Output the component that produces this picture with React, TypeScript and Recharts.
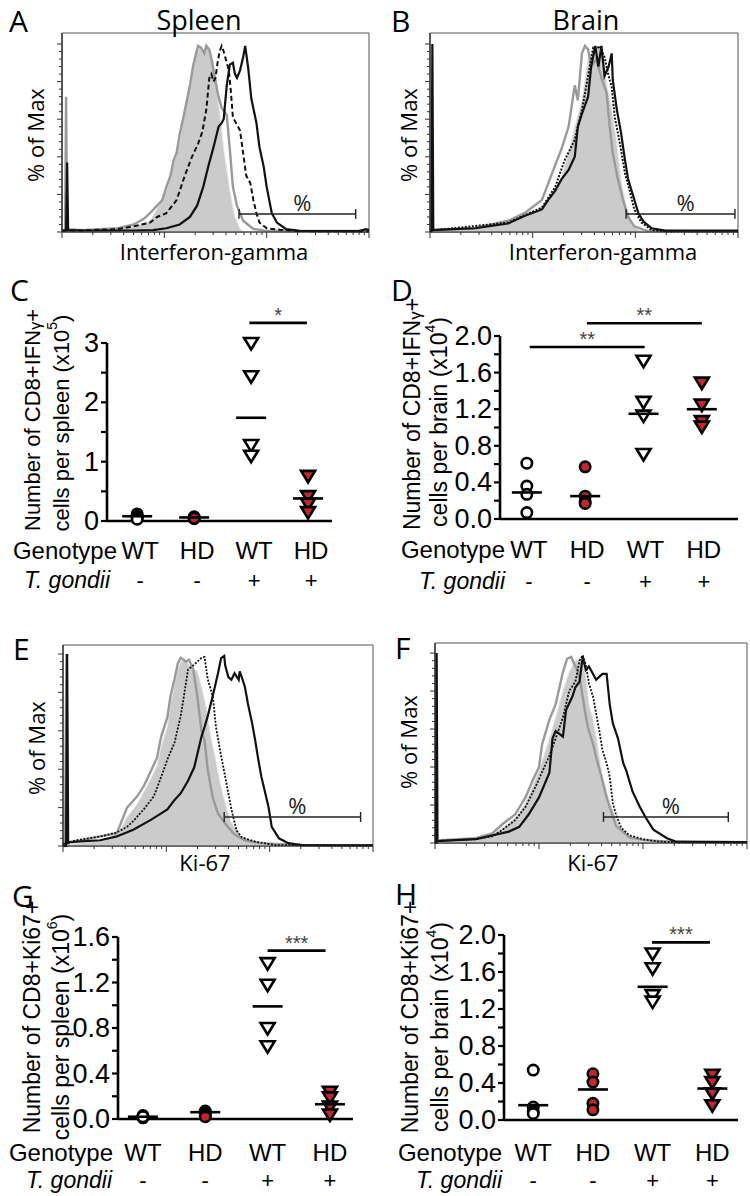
import React from 'react';
import { ComposedChart, Line, Area, Scatter, XAxis, YAxis, ReferenceArea, ReferenceLine } from 'recharts';

type Pt = [number, number];

// ---------- Histogram data: x = fluorescence channel (0-300, 100 per decade), y = % of Max ----------
// A: Spleen, Interferon-gamma
const aFill: Pt[] = [[0,0],[30,0.5],[70,3],[86,6],[96,15],[102,22],[109,36],[115,48],[120,66],[124,76],[128,88],[132,96],[135,99],[138,95],[141,99],[145,96],[148,90],[151,80],[153,68],[156,55],[158,44],[161,33],[164,22],[167,13],[169,8],[172,4],[174,1.5],[178,0],[300,0]];
const aGray: Pt[] = [[0,0.5],[3,0.5],[4,72],[5,1.5],[20,1],[37,1.5],[55,2],[70,4],[80,7],[86,10],[93,14],[98,17],[102,24],[106,30],[109,38],[112,42],[115,52],[119,62],[122,70],[125,78],[128,88],[131,95],[133,99],[136,98],[139,95],[141,99],[144,97],[146,92],[148,86],[150,80],[153,72],[156,66],[159,64],[161,62],[164,44],[167,24],[171,14],[177,6],[187,1.6],[200,0.6],[300,0.5]];
const aDash: Pt[] = [[0,0.8],[20,0.8],[54,1.5],[70,3],[86,5],[93,8],[102,10],[112,17],[120,30],[127,40],[133,47],[137,53],[141,65],[144,82],[146,84],[148,80],[150,82],[152,90],[154,96],[156,99],[158,96],[161,90],[163,86],[165,75],[167,61],[171,57],[174,54],[177,42],[180,30],[184,26],[187,17],[190,10],[193,5],[200,2],[213,1.2],[230,0.5],[300,0.3]];
const aSolid: Pt[] = [[0,0.8],[4,0.8],[5,37],[6,1],[20,0.8],[70,0.8],[89,1],[102,2],[115,4],[125,8],[132,14],[138,24],[143,35],[148,45],[153,56],[156,58],[158,60],[161,78],[164,89],[167,90],[169,84],[171,82],[174,86],[177,93],[179,99],[182,87],[185,71],[190,58],[193,45],[197,35],[200,24],[205,10],[210,5],[219,1.5],[232,0.6],[290,0.5],[297,1.5],[300,1]];

// B: Brain, Interferon-gamma
const bFill: Pt[] = [[0,0],[5,1],[44,2],[76,5],[92,8],[109,12],[125,24],[135,42],[141,56],[148,70],[154,92],[159,97],[164,99],[167,95],[172,79],[177,65],[182,47],[186,28],[191,14],[196,5],[203,1],[215,0],[300,0]];
const bGray: Pt[] = [[0,1],[5,1.2],[44,2],[76,6],[92,10],[109,17],[118,30],[128,44],[135,56],[141,78],[144,70],[148,95],[151,99],[154,97],[157,88],[162,92],[167,82],[172,74],[175,56],[178,42],[183,28],[188,17],[193,8],[199,3],[212,0.5],[300,0.3]];
const bDash: Pt[] = [[0,1],[5,1],[76,5],[109,13],[122,24],[131,38],[141,49],[148,65],[154,83],[159,98],[162,97],[165,99],[170,93],[174,83],[177,77],[180,61],[185,47],[190,31],[195,21],[199,12],[206,5],[216,1],[230,0.3],[300,0.2]];
const bSolid: Pt[] = [[0,0.5],[1.5,0.5],[2.3,100],[3.2,1],[44,2],[76,4.5],[92,8.5],[109,12],[115,17],[122,22],[128,28],[135,33],[141,40],[144,56],[148,63],[154,72],[157,88],[161,99],[164,88],[167,99],[170,83],[174,88],[177,95],[178,81],[182,65],[186,53],[190,38],[193,28],[198,19],[203,10],[208,5.5],[216,2],[229,0.7],[300,0.7]];

// E: Spleen, Ki-67
const eFill: Pt[] = [[0,0],[10,1],[36,3],[52,5],[62,15],[72,22],[78,28],[85,35],[91,42],[95,52],[101,62],[104,74],[108,84],[111,92],[114,96],[119,97],[121,95],[124,93],[130,91],[134,83],[139,71],[143,57],[147,47],[152,33],[157,22],[163,12],[173,5],[186,1.5],[200,0],[300,0]];
const eGray: Pt[] = [[0,0],[2,0],[3.3,100],[4.5,2],[10,2],[36,5],[52,6.6],[62,20],[72,26],[78,31],[85,39],[91,46],[95,57],[101,67],[104,78],[108,87],[111,95],[114,98],[119,96],[122,97],[126,92],[130,78],[134,60],[137,55],[140,40],[145,25],[150,17],[158,11],[166,6],[176,3],[190,1.5],[199,1.2],[231,0.5],[300,0.3]];
const eDot: Pt[] = [[0,1],[13,3],[36,5],[52,7],[62,10],[68,13],[78,19],[88,26],[95,36],[101,45],[108,54],[114,68],[117,78],[121,92],[126,94],[130,96],[134,98],[137,98.5],[140,87],[145,78],[148,62],[153,47],[157,36],[163,19],[168,8],[173,4.5],[186,2.3],[205,0.5],[300,0.3]];
const eSolid: Pt[] = [[0,0],[3,0],[4,100],[5,1],[6,2],[36,3],[52,5],[68,8.5],[85,13.6],[95,17],[101,19],[108,24],[114,27.5],[121,34],[127,41],[134,57],[137,62],[140,67.5],[143,74],[147,83],[150,90],[153,97.9],[156,99],[157,94],[160,88],[163,86.6],[166,90],[170,86.6],[171,91],[173,88],[176,83],[179,74],[183,64],[186,55],[189,45],[192,36],[196,27],[199,20],[202,10],[209,4],[218,1.5],[231,0.5],[300,0.3]];

// F: Brain, Ki-67
const fFill: Pt[] = [[0,0],[6,1],[39,2],[55,4],[65,8],[77,13],[87,21],[94,30],[100,38],[110,55],[116,66],[123,80],[129,90],[135,96],[139,97],[142,94],[145,88],[148,73],[152,65],[155,56],[161,35],[168,21],[177,9],[187,3],[200,0.8],[215,0],[300,0]];
const fGray: Pt[] = [[0,0],[6,1.5],[39,2.5],[55,5],[65,10],[77,15],[87,24],[94,33],[100,40],[103,52],[110,65],[116,73],[123,90],[127,97],[131,98],[134,94],[137,91],[140,84],[144,70],[147,61],[152,52],[155,45],[160,35],[165,24],[168,19],[174,9],[187,3],[200,1.5],[232,0.5],[300,0.3]];
const fDot: Pt[] = [[0,1],[6,1.2],[39,2],[55,3.5],[65,7],[77,12],[87,19],[97,30],[110,46],[116,55],[123,66],[129,80],[135,85],[139,96],[142,99],[145,94],[148,84],[152,77],[155,68],[158,59],[161,49],[165,42],[168,35],[171,21],[174,15],[179,8],[187,4],[200,2],[216,0.7],[240,0.3],[300,0.3]];
const fSolid: Pt[] = [[0,0],[1,0],[1.6,100],[2.4,1],[39,2],[71,6],[81,8.5],[90,15],[100,24],[110,37],[113,55],[116,59],[123,56],[126,70],[132,77],[135,82],[139,85],[142,98],[145,91],[148,93],[155,86],[161,89],[165,89],[168,73],[171,63],[176,55],[181,42],[184,38],[190,27],[197,19],[203,13],[210,7],[223,2.5],[232,0.7],[300,0.5]];

// Gates (channel start, channel end, height %)
const gateA = [173, 287, 9.6];
const gateB = [191, 297, 9.6];
const gateE = [156, 288, 15.1];
const gateF = [162, 282, 13.7];

// ---------- Dot plot data ----------
const genotypes = ['WT', 'HD', 'WT', 'HD'];
const infected = ['-', '-', '+', '+'];

// C: CD8+IFNγ+ per spleen (x10^5)
const cWTneg = [0.12, 0.08, 0.05, 0.03];
const cHDneg = [0.07, 0.06, 0.04, 0.05];
const cWTpos = [3.0, 2.44, 1.28, 1.10];
const cHDpos = [0.76, 0.42, 0.29, 0.15];
const cMeans = [0.08, 0.06, 1.74, 0.38];
const cYMajor = [0, 1, 2, 3];
const cYMinor = [0.5, 1.5, 2.5];

// D: CD8+IFNγ+ per brain (x10^4)
const dWTneg = [0.61, 0.36, 0.27, 0.07];
const dHDneg = [0.57, 0.25, 0.19, 0.17];
const dWTpos = [1.73, 1.28, 1.13, 0.71];
const dHDpos = [1.49, 1.25, 1.07, 1.01];
const dMeans = [0.29, 0.25, 1.15, 1.20];
const dYMajor = [0, 0.4, 0.8, 1.2, 1.6, 2.0];
const dYMinor = [0.2, 0.6, 1.0, 1.4, 1.8];

// G: CD8+Ki67+ per spleen (x10^6)
const gWTneg = [0.03, 0.02, 0.01, 0.02];
const gHDneg = [0.07, 0.05, 0.03, 0.02];
const gWTpos = [1.37, 1.18, 0.80, 0.64];
const gHDpos = [0.24, 0.19, 0.11, 0.04];
const gMeans = [0.02, 0.06, 0.99, 0.13];
const gYMajor = [0, 0.4, 0.8, 1.2, 1.6];
const gYMinor = [0.2, 0.6, 1.0, 1.4];

// H: CD8+Ki67+ per brain (x10^4)
const hWTneg = [0.54, 0.14, 0.09, 0.07];
const hHDneg = [0.50, 0.41, 0.18, 0.11];
const hWTpos = [1.80, 1.64, 1.35, 1.28];
const hHDpos = [0.49, 0.41, 0.29, 0.16];
const hMeans = [0.16, 0.33, 1.44, 0.34];
const hYMajor = [0, 0.4, 0.8, 1.2, 1.6, 2.0];
const hYMinor = [0.2, 0.6, 1.0, 1.4, 1.8];

// significance bars: [from group, to group, y, label]
const cSig: [number, number, number, string][] = [[1.97, 2.98, 3.34, '*']];
const dSig: [number, number, number, string][] = [[0.05, 2.02, 1.88, '**'], [1.03, 3.0, 2.14, '**']];
const gSig: [number, number, number, string][] = [[2.0, 2.93, 1.48, '***']];
const hSig: [number, number, number, string][] = [[1.99, 2.96, 1.92, '***']];

// ---------- styling ----------
const SANS = "'Liberation Sans', Arial, sans-serif";
const OPEN = "'Open Sans', 'Liberation Sans', sans-serif";
const RED = '#c1272d';

const toXY = (pts: Pt[]) => pts.map(([x, y]) => ({ x, y }));

const logTicks: number[] = (() => {
  const t: number[] = [];
  for (let d = 0; d < 3; d++) for (let k = 1; k < 10; k++) t.push(d * 100 + 100 * Math.log10(k));
  t.push(300);
  return t;
})();
const histYTicks: number[] = Array.from({ length: 26 }, (_, i) => i * 4);

const HistXTick = (p: any) => {
  const v = p.payload.value;
  const major = Math.abs(v - Math.round(v / 100) * 100) < 1e-6;
  return <line x1={p.x} x2={p.x} y1={p.y} y2={p.y + (major ? 6 : 3)} stroke="#333" strokeWidth={1} />;
};
const HistYTick = (p: any) => {
  const v = p.payload.value;
  const major = Math.abs(v % 20) < 1e-6;
  return <line x1={p.x} x2={p.x - (major ? 5 : 3)} y1={p.y} y2={p.y} stroke="#333" strokeWidth={1} />;
};

type HistProps = {
  left: number; top: number; width: number; height: number;
  margin: { top: number; right: number; bottom: number; left: number };
  yMax: number; fill: Pt[]; gray: Pt[]; dash: Pt[]; solid: Pt[]; dashArray: string; dashWidth: number; gate: number[];
};

function Histogram(h: HistProps) {
  const [g1, g2, gy] = h.gate;
  return (
    <div style={{ position: 'absolute', left: h.left, top: h.top }}>
      <ComposedChart width={h.width} height={h.height} margin={h.margin}>
        <XAxis type="number" dataKey="x" domain={[0, 300]} ticks={logTicks} interval={0} tickSize={0} tickMargin={0}
          tickLine={false} tick={HistXTick} axisLine={{ stroke: '#222', strokeWidth: 1.2 }} height={10} />
        <YAxis type="number" domain={[0, h.yMax]} ticks={histYTicks} interval={0} tickSize={0} tickMargin={0}
          tickLine={false} tick={HistYTick} axisLine={{ stroke: '#222', strokeWidth: 1.2 }} width={20} />
        <ReferenceArea x1={0} x2={300} y1={0} y2={h.yMax} fill="none" stroke="#555" strokeWidth={1} />
        <Area data={toXY(h.fill)} dataKey="y" type="linear" fill="#cbcbcb" fillOpacity={1} stroke="#e6e6e6" strokeWidth={1} isAnimationActive={false} dot={false} activeDot={false} />
        <Line data={toXY(h.gray)} dataKey="y" type="linear" stroke="#9a9a9a" strokeWidth={2.4} dot={false} activeDot={false} isAnimationActive={false} />
        <Line data={toXY(h.dash)} dataKey="y" type="linear" stroke="#111" strokeWidth={h.dashWidth} strokeDasharray={h.dashArray} dot={false} activeDot={false} isAnimationActive={false} />
        <Line data={toXY(h.solid)} dataKey="y" type="linear" stroke="#111" strokeWidth={2.2} dot={false} activeDot={false} isAnimationActive={false} />
        <ReferenceLine segment={[{ x: g1, y: gy }, { x: g2, y: gy }]} stroke="#222" strokeWidth={1.4}
          label={{ value: '%', position: 'top', offset: 3, dx: 5, fill: '#222', fontSize: 22, fontFamily: OPEN }} />
        <ReferenceLine segment={[{ x: g1, y: gy - 2.6 }, { x: g1, y: gy + 2.6 }]} stroke="#222" strokeWidth={1.4} />
        <ReferenceLine segment={[{ x: g2, y: gy - 2.6 }, { x: g2, y: gy + 2.6 }]} stroke="#222" strokeWidth={1.4} />
      </ComposedChart>
    </div>
  );
}

// ---------- dot plot markers ----------
const CircleMark = (fill: string) => (p: any) => (
  <circle cx={p.cx} cy={p.cy} r={5.2} fill={fill} stroke="#000" strokeWidth={2.6} />
);
const TriMark = (fill: string) => (p: any) => (
  <polygon points={`${p.cx - 7},${p.cy - 5} ${p.cx + 7},${p.cy - 5} ${p.cx},${p.cy + 6.5}`} fill={fill} stroke="#000" strokeWidth={2.6} strokeLinejoin="miter" />
);
const MeanMark = (p: any) => (
  <line x1={p.cx - 15} x2={p.cx + 15} y1={p.cy} y2={p.cy} stroke="#000" strokeWidth={2.6} />
);

type DotProps = {
  left: number; top: number; width: number; height: number;
  margin: { top: number; right: number; bottom: number; left: number };
  yMax: number; yMajor: number[]; yMinor: number[]; digits: number; xDomain: [number, number];
  groups: number[][]; means: number[]; sigs: [number, number, number, string][]; dy: [number, number]; labelDx?: number;
};

function DotPlot(d: DotProps) {
  const ticks = [...d.yMajor, ...d.yMinor].sort((a, b) => a - b);
  const marks = [CircleMark('#fff'), CircleMark(RED), TriMark('#fff'), TriMark(RED)];
  const ldx = d.labelDx || 0;
  const YTick = (p: any) => {
    const v = p.payload.value;
    const isMajor = d.yMajor.some((m) => Math.abs(m - v) < 1e-6);
    return (
      <g>
        <line x1={p.x} x2={p.x - 6} y1={p.y} y2={p.y} stroke="#000" strokeWidth={2.2} />
        {isMajor && (
          <text x={p.x - 8} y={p.y} textAnchor="end" dominantBaseline="central" fontSize={27} fontFamily={SANS} fill="#000">
            {v.toFixed(d.digits)}
          </text>
        )}
      </g>
    );
  };
  const XTick = (p: any) => {
    const i = Math.round(p.payload.value);
    return (
      <g>
        <text x={p.x + ldx} y={p.y + d.dy[0]} textAnchor="middle" dominantBaseline="central" fontSize={24} fontFamily={SANS} fill="#000">{genotypes[i]}</text>
        <text x={p.x + ldx} y={p.y + d.dy[1]} textAnchor="middle" dominantBaseline="central" fontSize={22} fontFamily={SANS} fill="#000">{infected[i]}</text>
      </g>
    );
  };
  return (
    <div style={{ position: 'absolute', left: d.left, top: d.top }}>
      <ComposedChart width={d.width} height={d.height} margin={d.margin} style={{ overflow: 'visible' }}>
        <XAxis type="number" dataKey="x" domain={d.xDomain} ticks={[0, 1, 2, 3]} interval={0} tickSize={0} tickMargin={0}
          tickLine={false} tick={XTick} axisLine={{ stroke: '#000', strokeWidth: 2.6 }} height={10} />
        <YAxis type="number" dataKey="y" domain={[0, d.yMax]} ticks={ticks} interval={0} tickSize={0} tickMargin={0}
          tickLine={false} tick={YTick} axisLine={{ stroke: '#000', strokeWidth: 2.6 }} width={40} />
        {d.groups.map((vals, i) => (
          <Scatter key={i} data={vals.map((v) => ({ x: i, y: v }))} dataKey="y" shape={marks[i]} isAnimationActive={false} />
        ))}
        <Scatter data={d.means.map((m, i) => ({ x: i, y: m }))} dataKey="y" shape={MeanMark} isAnimationActive={false} />
        {d.sigs.map(([a, b, y, lab], k) => (
          <ReferenceLine key={k} ifOverflow="visible" segment={[{ x: a, y }, { x: b, y }]} stroke="#000" strokeWidth={2.6}
            label={{ value: lab, position: 'top', offset: 1, fill: '#444', fontSize: 20, fontFamily: SANS }} />
        ))}
      </ComposedChart>
    </div>
  );
}

// ---------- overlay text helpers ----------
const Letter = ({ x, y, t }: { x: number; y: number; t: string }) => (
  <text x={x} y={y} fontSize={30} fontFamily={OPEN} fill="#000">{t}</text>
);
const VText = ({ x, y, children, size = 22, font = OPEN }: any) => (
  <text transform={`translate(${x},${y}) rotate(-90)`} textAnchor="middle" dominantBaseline="central" fontSize={size} fontFamily={font} fill="#000">{children}</text>
);
const HText = ({ x, y, children, size = 22, font = OPEN, anchor = 'middle', italic = false }: any) => (
  <text x={x} y={y} textAnchor={anchor} dominantBaseline="central" fontSize={size} fontFamily={font} fontStyle={italic ? 'italic' : 'normal'} fill="#000">{children}</text>
);

const YTitle = ({ x1, y1, x2, y2, marker, organ, exp, size = 23 }: any) => (
  <g>
    <VText x={x1} y={y1} size={size} font={SANS}>
      {'Number of CD8+'}{marker === 'IFN' ? <>{'IFN'}<tspan fontSize={size - 6} dy={3}>γ</tspan><tspan dy={-3}>+</tspan></> : 'Ki67+'}
    </VText>
    <VText x={x2} y={y2} size={size} font={SANS}>
      {`cells per ${organ} (x10`}<tspan fontSize={14} dy={-9}>{exp}</tspan><tspan dy={9}>)</tspan>
    </VText>
  </g>
);

export default function App() {
  return (
    <div style={{ position: 'absolute', left: 0, top: 0, width: 750, height: 1196, background: '#fff', overflow: 'hidden' }}>
      <Histogram left={0} top={0} width={375} height={250} margin={{ top: 33, right: 6, bottom: 8, left: 42 }} yMax={105.85}
        fill={aFill} gray={aGray} dash={aDash} solid={aSolid} dashArray="5 3" dashWidth={2} gate={gateA} />
      <Histogram left={375} top={0} width={375} height={250} margin={{ top: 33, right: 12, bottom: 8, left: 35 }} yMax={105.85}
        fill={bFill} gray={bGray} dash={bDash} solid={bSolid} dashArray="2 1.5" dashWidth={2} gate={gateB} />
      <Histogram left={0} top={600} width={375} height={270} margin={{ top: 45, right: 2, bottom: 14, left: 43 }} yMax={104.7}
        fill={eFill} gray={eGray} dash={eDot} solid={eSolid} dashArray="2 1.5" dashWidth={1.8} gate={gateE} />
      <Histogram left={375} top={600} width={375} height={270} margin={{ top: 43, right: 3, bottom: 17, left: 40 }} yMax={105.3}
        fill={fFill} gray={fGray} dash={fDot} solid={fSolid} dashArray="2 1.5" dashWidth={1.8} gate={gateF} />

      <DotPlot left={0} top={300} width={375} height={300} margin={{ top: 43, right: 43, bottom: 69, left: 67 }}
        yMax={3} yMajor={cYMajor} yMinor={cYMinor} digits={0} xDomain={[-0.53, 3.42]}
        groups={[cWTneg, cHDneg, cWTpos, cHDpos]} means={cMeans} sigs={cSig} dy={[29, 59]} labelDx={3} />
      <DotPlot left={375} top={300} width={375} height={300} margin={{ top: 36, right: 12, bottom: 71, left: 85 }}
        yMax={2} yMajor={dYMajor} yMinor={dYMinor} digits={1} xDomain={[-0.46, 3.62]}
        groups={[dWTneg, dHDneg, dWTpos, dHDpos]} means={dMeans} sigs={dSig} dy={[30, 62]} labelDx={2} />
      <DotPlot left={0} top={880} width={375} height={316} margin={{ top: 57, right: 22, bottom: 67, left: 78 }}
        yMax={1.6} yMajor={gYMajor} yMinor={gYMinor} digits={1} xDomain={[-0.40, 3.37]}
        groups={[gWTneg, gHDneg, gWTpos, gHDpos]} means={gMeans} sigs={gSig} dy={[33, 61]} />
      <DotPlot left={375} top={880} width={375} height={316} margin={{ top: 55, right: 12, bottom: 66, left: 89 }}
        yMax={2} yMajor={hYMajor} yMinor={hYMinor} digits={1} xDomain={[-0.49, 3.43]}
        groups={[hWTneg, hHDneg, hWTpos, hHDpos]} means={hMeans} sigs={hSig} dy={[32, 60]} />

      <svg width={750} height={1196} style={{ position: 'absolute', left: 0, top: 0, pointerEvents: 'none' }}>
        <Letter x={9} y={32} t="A" />
        <Letter x={391} y={32} t="B" />
        <Letter x={10} y={301} t="C" />
        <Letter x={391} y={301} t="D" />
        <Letter x={13} y={660} t="E" />
        <Letter x={395} y={659} t="F" />
        <Letter x={12} y={907} t="G" />
        <Letter x={395} y={905} t="H" />

        <text x={199} y={30} textAnchor="middle" fontSize={27} fontFamily={OPEN}>Spleen</text>
        <text x={586} y={30} textAnchor="middle" fontSize={27} fontFamily={OPEN}>Brain</text>

        <VText x={35} y={135}>% of Max</VText>
        <VText x={408} y={135}>% of Max</VText>
        <VText x={36} y={748}>% of Max</VText>
        <VText x={408} y={742}>% of Max</VText>

        <HText x={214} y={251}>Interferon-gamma</HText>
        <HText x={603} y={251}>Interferon-gamma</HText>
        <HText x={205} y={862}>Ki-67</HText>
        <HText x={593} y={862}>Ki-67</HText>

        <YTitle x1={32} y1={420} x2={61} y2={423} marker="IFN" organ="spleen" exp="5" size={22} />
        <YTitle x1={412} y1={414} x2={439} y2={422} marker="IFN" organ="brain" exp="4" />
        <YTitle x1={32} y1={1017} x2={61} y2={1027} marker="Ki" organ="spleen" exp="6" />
        <YTitle x1={410} y1={1017} x2={440} y2={1027} marker="Ki" organ="brain" exp="4" />

        <HText x={117} y={550} size={24} font={SANS} anchor="end">Genotype</HText>
        <HText x={110} y={580} size={23} font={SANS} anchor="end" italic>T. gondii</HText>
        <HText x={505} y={549} size={24} font={SANS} anchor="end">Genotype</HText>
        <HText x={505} y={581} size={23} font={SANS} anchor="end" italic>T. gondii</HText>
        <HText x={113} y={1152} size={24} font={SANS} anchor="end">Genotype</HText>
        <HText x={112} y={1180} size={23} font={SANS} anchor="end" italic>T. gondii</HText>
        <HText x={502} y={1152} size={24} font={SANS} anchor="end">Genotype</HText>
        <HText x={502} y={1180} size={23} font={SANS} anchor="end" italic>T. gondii</HText>
      </svg>
    </div>
  );
}
